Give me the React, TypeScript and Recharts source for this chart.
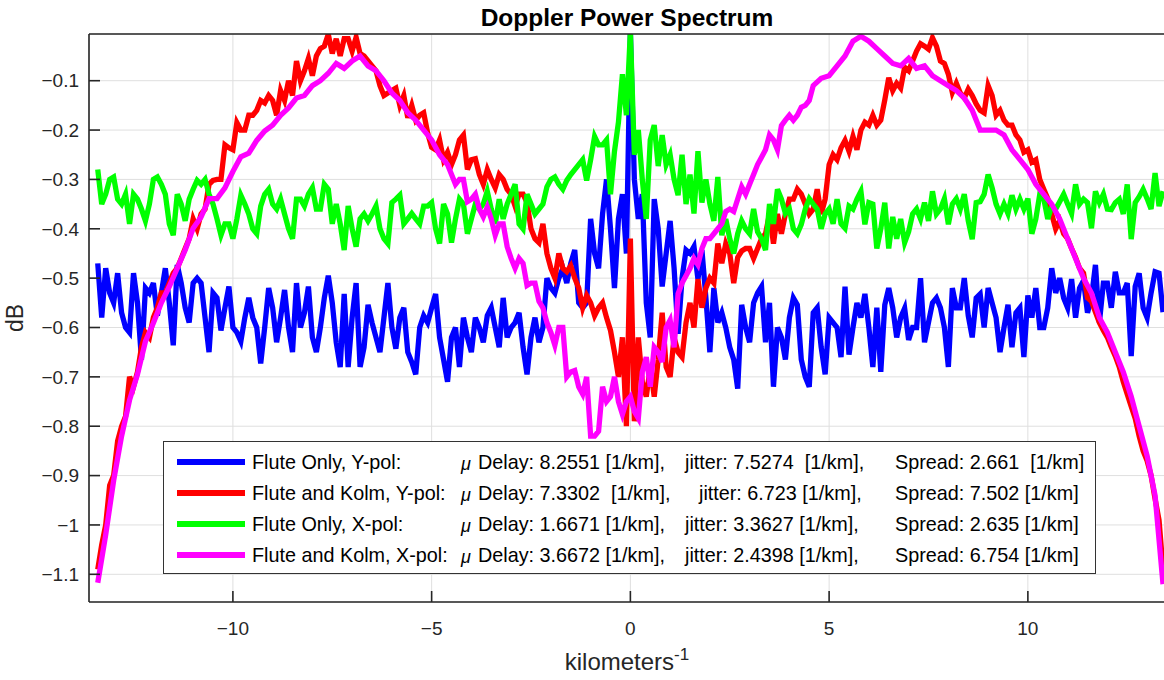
import React from "react";
import { LineChart, Line, XAxis, YAxis, CartesianGrid, Legend } from "recharts";

// Doppler power spectrum (dB).
// Noisy traces are read on a 0.1 grid; "Flute and Kolm, X-pol" has its own grid (finer near the centre).
const freqFine = [
  -13.4, -13.3, -13.2, -13.1, -13.0, -12.9, -12.8, -12.7, -12.6, -12.5, -12.4, -12.3, -12.2, -12.1, -12.0, -11.9, -11.8, -11.7, -11.6, -11.5, -11.4, -11.3,
  -11.2, -11.1, -11.0, -10.9, -10.8, -10.7, -10.6, -10.5, -10.4, -10.3, -10.2, -10.1, -10.0, -9.9, -9.8, -9.7, -9.6, -9.5, -9.4, -9.3, -9.2, -9.1,
  -9.0, -8.9, -8.8, -8.7, -8.6, -8.5, -8.4, -8.3, -8.2, -8.1, -8.0, -7.9, -7.8, -7.7, -7.6, -7.5, -7.4, -7.3, -7.2, -7.1, -7.0, -6.9, -6.8,
  -6.7, -6.6, -6.5, -6.4, -6.3, -6.2, -6.1, -6.0, -5.9, -5.8, -5.7, -5.6, -5.5, -5.4, -5.3, -5.2, -5.1, -5.0, -4.9, -4.8, -4.7, -4.6, -4.5,
  -4.4, -4.3, -4.2, -4.1, -4.0, -3.9, -3.8, -3.7, -3.6, -3.5, -3.4, -3.3, -3.2, -3.1, -3.0, -2.9, -2.8, -2.7, -2.6, -2.5, -2.4, -2.3, -2.2,
  -2.1, -2.0, -1.9, -1.8, -1.7, -1.6, -1.5, -1.4, -1.3, -1.2, -1.1, -1.0, -0.9, -0.8, -0.7, -0.6, -0.5, -0.4, -0.3, -0.2, -0.1, 0,
  0.1, 0.2, 0.3, 0.4, 0.5, 0.6, 0.7, 0.8, 0.9, 1.0, 1.1, 1.2, 1.3, 1.4, 1.5, 1.6, 1.7, 1.8, 1.9, 2.0, 2.1, 2.2, 2.3,
  2.4, 2.5, 2.6, 2.7, 2.8, 2.9, 3.0, 3.1, 3.2, 3.3, 3.4, 3.5, 3.6, 3.7, 3.8, 3.9, 4.0, 4.1, 4.2, 4.3, 4.4, 4.5, 4.6,
  4.7, 4.8, 4.9, 5.0, 5.1, 5.2, 5.3, 5.4, 5.5, 5.6, 5.7, 5.8, 5.9, 6.0, 6.1, 6.2, 6.3, 6.4, 6.5, 6.6, 6.7, 6.8, 6.9,
  7.0, 7.1, 7.2, 7.3, 7.4, 7.5, 7.6, 7.7, 7.8, 7.9, 8.0, 8.1, 8.2, 8.3, 8.4, 8.5, 8.6, 8.7, 8.8, 8.9, 9.0, 9.1,
  9.2, 9.3, 9.4, 9.5, 9.6, 9.7, 9.8, 9.9, 10.0, 10.1, 10.2, 10.3, 10.4, 10.5, 10.6, 10.7, 10.8, 10.9, 11.0, 11.1, 11.2, 11.3,
  11.4, 11.5, 11.6, 11.7, 11.8, 11.9, 12.0, 12.1, 12.2, 12.3, 12.4, 12.5, 12.6, 12.7, 12.8, 12.9, 13.0, 13.1, 13.2, 13.3, 13.4,
];

const fluteOnlyY = [
  -0.47, -0.58, -0.48, -0.53, -0.55, -0.49, -0.57, -0.6, -0.61, -0.49, -0.55, -0.665, -0.52, -0.53, -0.51, -0.576, -0.53, -0.48, -0.55, -0.636, -0.473, -0.51,
  -0.56, -0.59, -0.51, -0.5, -0.51, -0.58, -0.65, -0.53, -0.54, -0.606, -0.56, -0.517, -0.6, -0.61, -0.628, -0.58, -0.54, -0.58, -0.6, -0.673, -0.6, -0.52,
  -0.56, -0.63, -0.58, -0.524, -0.6, -0.65, -0.51, -0.6, -0.57, -0.517, -0.62, -0.65, -0.6, -0.54, -0.495, -0.55, -0.63, -0.68, -0.532, -0.68, -0.58, -0.51, -0.68,
  -0.64, -0.554, -0.59, -0.62, -0.65, -0.58, -0.51, -0.6, -0.643, -0.58, -0.56, -0.65, -0.67, -0.695, -0.6, -0.576, -0.59, -0.56, -0.532, -0.62, -0.665, -0.71, -0.62,
  -0.6, -0.68, -0.58, -0.62, -0.65, -0.58, -0.6, -0.63, -0.576, -0.56, -0.6, -0.64, -0.54, -0.62, -0.6, -0.59, -0.57, -0.64, -0.695, -0.62, -0.58, -0.63, -0.6,
  -0.5, -0.52, -0.53, -0.5, -0.48, -0.51, -0.47, -0.443, -0.55, -0.56, -0.55, -0.38, -0.45, -0.48, -0.37, -0.3, -0.4, -0.52, -0.38, -0.33, -0.45, 0,
  -0.3, -0.38, -0.33, -0.55, -0.62, -0.34, -0.4, -0.517, -0.45, -0.384, -0.48, -0.613, -0.5, -0.443, -0.45, -0.436, -0.502, -0.443, -0.54, -0.65, -0.52, -0.59, -0.57,
  -0.6, -0.64, -0.665, -0.724, -0.554, -0.6, -0.63, -0.55, -0.53, -0.517, -0.63, -0.55, -0.72, -0.6, -0.62, -0.665, -0.58, -0.54, -0.554, -0.665, -0.7, -0.72, -0.57,
  -0.56, -0.64, -0.695, -0.58, -0.59, -0.6, -0.66, -0.517, -0.655, -0.6, -0.55, -0.58, -0.532, -0.6, -0.68, -0.56, -0.69, -0.554, -0.52, -0.56, -0.62, -0.58, -0.561,
  -0.625, -0.6, -0.6, -0.5, -0.63, -0.59, -0.55, -0.54, -0.56, -0.6, -0.68, -0.52, -0.56, -0.56, -0.5, -0.576, -0.62, -0.54, -0.532, -0.6, -0.52, -0.55,
  -0.58, -0.65, -0.6, -0.554, -0.64, -0.57, -0.56, -0.66, -0.535, -0.58, -0.52, -0.6, -0.6, -0.56, -0.48, -0.53, -0.5, -0.54, -0.56, -0.502, -0.58, -0.52,
  -0.505, -0.57, -0.54, -0.473, -0.59, -0.51, -0.51, -0.56, -0.487, -0.53, -0.53, -0.51, -0.658, -0.517, -0.49, -0.56, -0.58, -0.53, -0.487, -0.49, -0.569,
];

const fluteKolmY = [
  -1.09, -1.04, -1.0, -0.92, -0.9, -0.83, -0.8, -0.78, -0.7, -0.72, -0.69, -0.64, -0.61, -0.62, -0.58, -0.56, -0.53, -0.53, -0.51, -0.49, -0.48, -0.46,
  -0.44, -0.42, -0.38, -0.4, -0.37, -0.36, -0.31, -0.302, -0.3, -0.3, -0.23, -0.236, -0.24, -0.185, -0.2, -0.2, -0.17, -0.17, -0.16, -0.14, -0.145, -0.13,
  -0.14, -0.17, -0.12, -0.14, -0.1, -0.13, -0.06, -0.1, -0.08, -0.055, -0.09, -0.05, -0.035, -0.03, -0.006, -0.045, -0.015, -0.05, -0.015, -0.015, -0.04, -0.012, -0.045,
  -0.05, -0.06, -0.07, -0.08, -0.11, -0.13, -0.125, -0.12, -0.115, -0.15, -0.13, -0.175, -0.15, -0.18, -0.17, -0.165, -0.206, -0.235, -0.24, -0.22, -0.26, -0.245, -0.27,
  -0.25, -0.22, -0.21, -0.28, -0.26, -0.258, -0.29, -0.31, -0.28, -0.3, -0.317, -0.29, -0.3, -0.32, -0.33, -0.354, -0.33, -0.33, -0.347, -0.4, -0.42, -0.428, -0.39,
  -0.45, -0.48, -0.5, -0.45, -0.48, -0.487, -0.475, -0.5, -0.52, -0.56, -0.535, -0.55, -0.576, -0.56, -0.55, -0.58, -0.606, -0.65, -0.7, -0.62, -0.8, -0.42,
  -0.79, -0.62, -0.71, -0.74, -0.68, -0.74, -0.665, -0.57, -0.68, -0.7, -0.62, -0.65, -0.66, -0.59, -0.55, -0.6, -0.502, -0.56, -0.52, -0.5, -0.51, -0.43, -0.47,
  -0.43, -0.45, -0.51, -0.458, -0.445, -0.44, -0.44, -0.46, -0.44, -0.42, -0.41, -0.37, -0.43, -0.37, -0.41, -0.37, -0.34, -0.34, -0.32, -0.33, -0.35, -0.37, -0.36,
  -0.32, -0.37, -0.34, -0.27, -0.25, -0.26, -0.236, -0.221, -0.243, -0.213, -0.24, -0.2, -0.184, -0.19, -0.17, -0.19, -0.18, -0.139, -0.094, -0.12, -0.105, -0.115, -0.073,
  -0.08, -0.06, -0.04, -0.025, -0.03, -0.036, -0.013, -0.03, -0.06, -0.065, -0.087, -0.124, -0.105, -0.125, -0.135, -0.117, -0.13, -0.147, -0.16, -0.165, -0.11, -0.13,
  -0.17, -0.16, -0.18, -0.19, -0.19, -0.21, -0.22, -0.245, -0.24, -0.265, -0.26, -0.3, -0.32, -0.339, -0.37, -0.4, -0.384, -0.41, -0.42, -0.44, -0.458, -0.48,
  -0.49, -0.54, -0.547, -0.569, -0.59, -0.606, -0.62, -0.64, -0.658, -0.68, -0.71, -0.735, -0.76, -0.784, -0.82, -0.85, -0.87, -0.9, -0.947, -0.99, -1.09,
];

const fluteOnlyX = [
  -0.28, -0.35, -0.33, -0.3, -0.295, -0.34, -0.35, -0.33, -0.39, -0.33, -0.34, -0.36, -0.384, -0.35, -0.3, -0.295, -0.31, -0.33, -0.39, -0.413, -0.33, -0.35,
  -0.384, -0.34, -0.32, -0.302, -0.31, -0.3, -0.33, -0.35, -0.38, -0.413, -0.39, -0.39, -0.42, -0.38, -0.332, -0.35, -0.37, -0.4, -0.41, -0.354, -0.33, -0.32,
  -0.35, -0.36, -0.34, -0.37, -0.4, -0.42, -0.34, -0.34, -0.354, -0.33, -0.317, -0.36, -0.36, -0.31, -0.32, -0.39, -0.35, -0.39, -0.443, -0.354, -0.4, -0.436, -0.38,
  -0.37, -0.384, -0.37, -0.354, -0.4, -0.42, -0.43, -0.347, -0.34, -0.332, -0.39, -0.38, -0.369, -0.38, -0.39, -0.354, -0.354, -0.347, -0.4, -0.43, -0.35, -0.37, -0.428,
  -0.38, -0.34, -0.35, -0.41, -0.38, -0.35, -0.36, -0.35, -0.324, -0.36, -0.39, -0.34, -0.38, -0.35, -0.33, -0.31, -0.39, -0.4, -0.33, -0.35, -0.37, -0.36, -0.35,
  -0.315, -0.3, -0.295, -0.31, -0.32, -0.302, -0.29, -0.28, -0.27, -0.26, -0.302, -0.26, -0.213, -0.23, -0.23, -0.22, -0.33, -0.243, -0.184, -0.087, -0.17, 0,
  -0.25, -0.2, -0.3, -0.38, -0.22, -0.19, -0.273, -0.21, -0.27, -0.25, -0.3, -0.332, -0.25, -0.35, -0.29, -0.369, -0.243, -0.347, -0.3, -0.35, -0.384, -0.295, -0.413,
  -0.38, -0.42, -0.45, -0.41, -0.384, -0.4, -0.41, -0.36, -0.406, -0.42, -0.443, -0.35, -0.39, -0.32, -0.34, -0.369, -0.36, -0.4, -0.41, -0.391, -0.36, -0.339, -0.35,
  -0.36, -0.4, -0.37, -0.36, -0.39, -0.34, -0.39, -0.399, -0.354, -0.36, -0.34, -0.324, -0.391, -0.347, -0.35, -0.44, -0.4, -0.347, -0.44, -0.376, -0.42, -0.38, -0.428,
  -0.406, -0.37, -0.36, -0.38, -0.347, -0.384, -0.324, -0.37, -0.36, -0.339, -0.391, -0.35, -0.339, -0.36, -0.33, -0.384, -0.421, -0.347, -0.345, -0.33, -0.29, -0.317,
  -0.35, -0.37, -0.35, -0.369, -0.332, -0.36, -0.34, -0.36, -0.339, -0.41, -0.38, -0.33, -0.339, -0.38, -0.354, -0.36, -0.345, -0.33, -0.35, -0.369, -0.31, -0.35,
  -0.34, -0.347, -0.399, -0.324, -0.347, -0.33, -0.36, -0.361, -0.347, -0.34, -0.37, -0.31, -0.421, -0.347, -0.335, -0.32, -0.339, -0.36, -0.287, -0.354, -0.324,
];

const freqKolmX = [
  -13.4, -13.2, -13.0, -12.8, -12.6, -12.4, -12.2, -12.0, -11.8, -11.6, -11.4, -11.2, -11.0, -10.8, -10.6, -10.4, -10.2, -10.0, -9.8, -9.6, -9.4, -9.2,
  -9.0, -8.8, -8.6, -8.4, -8.2, -8.0, -7.8, -7.6, -7.4, -7.2, -7.0, -6.8, -6.6, -6.4, -6.2, -6.0, -5.8, -5.6, -5.4, -5.2, -5.0, -4.8, -4.6,
  -4.4, -4.3, -4.2, -4.1, -4.0, -3.9, -3.8, -3.7, -3.6, -3.5, -3.4, -3.3, -3.2, -3.1, -3.0, -2.9, -2.8, -2.7, -2.6, -2.5, -2.4, -2.3, -2.2,
  -2.1, -2.0, -1.9, -1.8, -1.7, -1.6, -1.5, -1.4, -1.3, -1.2, -1.1, -1.0, -0.9, -0.8, -0.7, -0.6, -0.5, -0.4, -0.3, -0.2, -0.1, 0,
  0.1, 0.2, 0.3, 0.4, 0.5, 0.6, 0.7, 0.8, 0.9, 1.0, 1.1, 1.2, 1.3, 1.4, 1.5, 1.6, 1.7, 1.8, 1.9, 2.0, 2.1, 2.2, 2.3,
  2.4, 2.5, 2.6, 2.7, 2.8, 2.9, 3.0, 3.1, 3.2, 3.3, 3.4, 3.5, 3.6, 3.7, 3.8, 3.9, 4.0, 4.1, 4.2, 4.3, 4.4, 4.5, 4.6,
  4.8, 5.0, 5.2, 5.4, 5.6, 5.8, 6.0, 6.2, 6.4, 6.6, 6.8, 7.0, 7.2, 7.4, 7.6, 7.8, 8.0, 8.2, 8.4, 8.6, 8.8, 9.0,
  9.2, 9.4, 9.6, 9.8, 10.0, 10.2, 10.4, 10.6, 10.8, 11.0, 11.2, 11.4, 11.6, 11.8, 12.0, 12.2, 12.4, 12.6, 12.8, 13.0, 13.2, 13.4,
];

const fluteKolmX = [
  -1.117, -1.02, -0.91, -0.82, -0.747, -0.695, -0.628, -0.591, -0.55, -0.517, -0.48, -0.443, -0.399, -0.376, -0.339, -0.339, -0.317, -0.284, -0.254, -0.247, -0.221, -0.202,
  -0.19, -0.17, -0.155, -0.135, -0.13, -0.11, -0.1, -0.085, -0.065, -0.075, -0.06, -0.05, -0.07, -0.08, -0.1, -0.125, -0.14, -0.165, -0.18, -0.2, -0.22, -0.25, -0.27,
  -0.31, -0.3, -0.3, -0.345, -0.34, -0.33, -0.36, -0.376, -0.356, -0.38, -0.413, -0.39, -0.39, -0.436, -0.46, -0.48, -0.46, -0.47, -0.515, -0.51, -0.51, -0.547, -0.56,
  -0.59, -0.61, -0.636, -0.6, -0.6, -0.7, -0.69, -0.687, -0.72, -0.735, -0.7, -0.82, -0.82, -0.81, -0.72, -0.75, -0.74, -0.7, -0.75, -0.776, -0.75, -0.74,
  -0.77, -0.784, -0.69, -0.66, -0.72, -0.64, -0.65, -0.67, -0.6, -0.585, -0.64, -0.532, -0.51, -0.495, -0.48, -0.46, -0.473, -0.44, -0.42, -0.42, -0.41, -0.4, -0.39,
  -0.365, -0.36, -0.365, -0.34, -0.315, -0.33, -0.31, -0.29, -0.27, -0.255, -0.24, -0.21, -0.22, -0.24, -0.191, -0.18, -0.17, -0.18, -0.17, -0.154, -0.15, -0.14, -0.11,
  -0.095, -0.09, -0.07, -0.05, -0.02, -0.01, -0.02, -0.035, -0.05, -0.065, -0.07, -0.055, -0.075, -0.07, -0.09, -0.1, -0.11, -0.12, -0.135, -0.16, -0.2, -0.2,
  -0.2, -0.21, -0.24, -0.26, -0.28, -0.31, -0.33, -0.35, -0.38, -0.42, -0.46, -0.5, -0.53, -0.58, -0.61, -0.65, -0.69, -0.74, -0.8, -0.86, -0.94, -1.12,
];

const xTicks = [-10, -5, 0, 5, 10];
const yTicks = [-1.1, -1, -0.9, -0.8, -0.7, -0.6, -0.5, -0.4, -0.3, -0.2, -0.1];

const seriesKeys = ["fluteOnlyY", "fluteKolmY", "fluteOnlyX", "fluteKolmX"];
const seriesNames = ["Flute Only, Y-pol:", "Flute and Kolm, Y-pol:", "Flute Only, X-pol:", "Flute and Kolm, X-pol:"];
const seriesColors = ["#0000ff", "#ff0000", "#00ff00", "#ff00ff"];
const delayText = ["Delay: 8.2551 [1/km],", "Delay: 7.3302  [1/km],", "Delay: 1.6671 [1/km],", "Delay: 3.6672 [1/km],"];
const jitterText = ["jitter: 7.5274  [1/km],", "jitter: 6.723 [1/km],", "jitter: 3.3627 [1/km],", "jitter: 2.4398 [1/km],"];
const spreadText = ["Spread: 2.661  [1/km]", "Spread: 7.502 [1/km]", "Spread: 2.635 [1/km]", "Spread: 6.754 [1/km]"];

const FONT = '"Liberation Sans", Arial, Helvetica, sans-serif';
const AXIS = "#262626";
const X_DOMAIN = [-13.62, 13.45];
const Y_DOMAIN = [-1.1561, -0.0054];

const fineRows = freqFine.map((f, i) => ({
  f,
  fluteOnlyY: fluteOnlyY[i],
  fluteKolmY: fluteKolmY[i],
  fluteOnlyX: fluteOnlyX[i],
}));
const kolmXRows = freqKolmX.map((f, i) => ({ f, fluteKolmX: fluteKolmX[i] }));
const seriesData = [fineRows, fineRows, fineRows, kolmXRows];

const minus = (v: number) => String(v).replace("-", "\u2212");

function TitleLabel({ viewBox }: any) {
  return (
    <text
      x={viewBox.x + viewBox.width / 2}
      y={26}
      textAnchor="middle"
      fill="#000"
      style={{ fontFamily: FONT, fontSize: 24.5, fontWeight: 700 }}
    >
      Doppler Power Spectrum
    </text>
  );
}

function KmLabel({ viewBox }: any) {
  return (
    <text
      x={viewBox.x + viewBox.width / 2}
      y={670}
      textAnchor="middle"
      fill={AXIS}
      style={{ fontFamily: FONT, fontSize: 24 }}
    >
      kilometers
      <tspan dy={-10} style={{ fontSize: 17 }}>
        -1
      </tspan>
    </text>
  );
}

function DbLabel() {
  return (
    <text
      x={23}
      y={318}
      textAnchor="middle"
      transform="rotate(-90 23 318)"
      fill={AXIS}
      style={{ fontFamily: FONT, fontSize: 23 }}
    >
      dB
    </text>
  );
}

function SpectrumLegend({ payload }: any) {
  const byKey: any = {};
  (payload || []).forEach((p: any) => (byKey[p.dataKey] = p));
  const cell = (left: number, top: number, extra: any = {}) => ({
    position: "absolute" as const,
    left,
    top,
    transform: "translateY(-50%)",
    whiteSpace: "pre" as const,
    lineHeight: "22px",
    ...extra,
  });
  return (
    <div
      style={{
        position: "relative",
        width: 933,
        height: 133,
        boxSizing: "border-box",
        border: "1px solid #333",
        background: "#fff",
        fontFamily: FONT,
        fontSize: 19.8,
        color: "#000",
      }}
    >
      {seriesKeys.map((k, i) => {
        const top = 20 + i * 30.9;
        const color = byKey[k]?.color ?? seriesColors[i];
        return (
          <React.Fragment key={k}>
            <div style={{ position: "absolute", left: 13, top: top - 3, width: 68, height: 6, background: color }} />
            <div style={cell(88, top)}>{seriesNames[i]}</div>
            <div style={cell(297, top + 2, { fontStyle: "italic", fontSize: 18 })}>{"\u03bc"}</div>
            <div style={cell(314, top)}>{delayText[i]}</div>
            <div style={cell(i === 1 ? 535 : 521, top)}>{jitterText[i]}</div>
            <div style={cell(731, top)}>{spreadText[i]}</div>
          </React.Fragment>
        );
      })}
    </div>
  );
}

export default function App() {
  const tickStyle = { fill: AXIS, fontSize: 19, fontFamily: FONT };
  const axisLine = { stroke: AXIS, strokeWidth: 1.6 };
  const tickLine = { stroke: AXIS, strokeWidth: 1.6 };
  return (
    <div style={{ position: "absolute", left: 0, top: 0, width: 1164, height: 680, overflow: "hidden", background: "#fff" }}>
      <LineChart width={1166} height={680} margin={{ top: 0, right: 0, bottom: 0, left: 0 }}>
        <CartesianGrid stroke="#dfdfdf" strokeWidth={1} />
        <XAxis
          dataKey="f"
          type="number"
          domain={X_DOMAIN}
          allowDataOverflow
          ticks={xTicks}
          tickFormatter={minus}
          height={78}
          tick={tickStyle}
          tickSize={-11}
          tickMargin={31}
          axisLine={axisLine}
          tickLine={tickLine}
          label={KmLabel}
        />
        <XAxis
          xAxisId="top"
          orientation="top"
          dataKey="f"
          type="number"
          domain={X_DOMAIN}
          allowDataOverflow
          ticks={xTicks}
          height={34}
          tick={false}
          tickSize={-11}
          axisLine={axisLine}
          tickLine={tickLine}
          label={TitleLabel}
        />
        <YAxis
          type="number"
          domain={Y_DOMAIN}
          allowDataOverflow
          ticks={yTicks}
          tickFormatter={minus}
          width={89}
          tick={tickStyle}
          tickSize={-11}
          tickMargin={21}
          axisLine={axisLine}
          tickLine={tickLine}
          label={DbLabel}
        />
        <YAxis
          yAxisId="right"
          orientation="right"
          type="number"
          domain={Y_DOMAIN}
          allowDataOverflow
          ticks={yTicks}
          width={1}
          tick={false}
          tickSize={-11}
          axisLine={axisLine}
          tickLine={tickLine}
        />
        {seriesKeys.map((k, i) => (
          <Line
            key={k}
            data={seriesData[i]}
            dataKey={k}
            name={seriesNames[i]}
            type="linear"
            stroke={seriesColors[i]}
            strokeWidth={5.3}
            dot={false}
            activeDot={false}
            isAnimationActive={false}
          />
        ))}
        <Legend
          layout="vertical"
          align="center"
          verticalAlign="middle"
          wrapperStyle={{ left: 163, top: 441, width: 933, height: 133 }}
          content={SpectrumLegend}
        />
      </LineChart>
    </div>
  );
}
